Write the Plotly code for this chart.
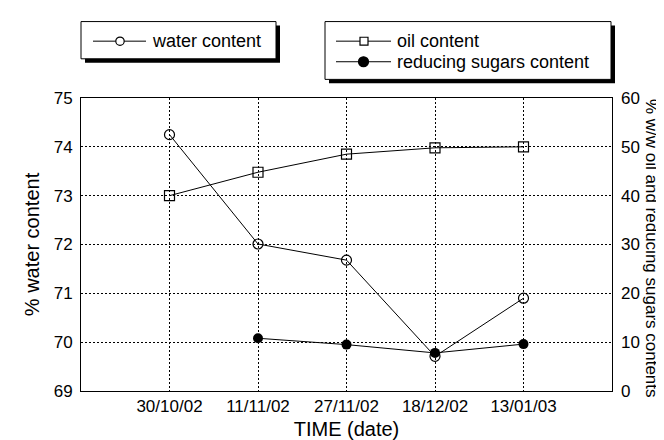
import plotly.graph_objects as go

dates = ["30/10/02", "11/11/02", "27/11/02", "18/12/02", "13/01/03"]
water = [74.25, 72.01, 71.68, 69.71, 70.90]
oil = [40.0, 44.8, 48.5, 49.8, 50.0]
sugar_dates = ["11/11/02", "27/11/02", "18/12/02", "13/01/03"]
sugars = [10.8, 9.5, 7.8, 9.6]

xpos = {d: i + 1 for i, d in enumerate(dates)}
FONT = "Liberation Sans, Arial, sans-serif"

W, H = 664, 440
ML, MR, MT, MB = 73, 60, 90, 51
PW, PH = W - ML - MR, H - MT - MB


def px_x(p):
    return (p - ML) / PW


def px_y(p):
    return (H - MB - p) / PH


fig = go.Figure()
fig.add_trace(go.Scatter(
    x=[xpos[d] for d in dates], y=water, name="water content",
    mode="lines+markers", line=dict(color="black", width=1),
    marker=dict(symbol="circle-open", size=10, color="black", line=dict(width=1.2)),
    yaxis="y", showlegend=False))
fig.add_trace(go.Scatter(
    x=[xpos[d] for d in dates], y=oil, name="oil content",
    mode="lines+markers", line=dict(color="black", width=1),
    marker=dict(symbol="square-open", size=10, color="black", line=dict(width=1.2)),
    yaxis="y2", showlegend=False))
fig.add_trace(go.Scatter(
    x=[xpos[d] for d in sugar_dates], y=sugars, name="reducing sugars content",
    mode="lines+markers", line=dict(color="black", width=1),
    marker=dict(symbol="circle", size=10, color="black"),
    yaxis="y2", showlegend=False))

shapes = []
annotations = []


def rect_px(x0, y0, x1, y1, fill, lw):
    return dict(type="rect", xref="paper", yref="paper",
                x0=px_x(x0), x1=px_x(x1), y0=px_y(y1), y1=px_y(y0),
                fillcolor=fill, line=dict(color="black", width=lw), layer="above")


def circle_px(cx, cy, r, fill):
    return dict(type="circle", xref="paper", yref="paper",
                x0=px_x(cx - r), x1=px_x(cx + r), y0=px_y(cy + r), y1=px_y(cy - r),
                fillcolor=fill, line=dict(color="black", width=1.2), layer="above")


def line_px(x0, x1, y):
    return dict(type="line", xref="paper", yref="paper",
                x0=px_x(x0), x1=px_x(x1), y0=px_y(y), y1=px_y(y),
                line=dict(color="black", width=1), layer="above")


def text_px(x, y, s):
    return dict(text=s, xref="paper", yref="paper", x=px_x(x), y=px_y(y),
                xanchor="left", yanchor="middle", showarrow=False,
                font=dict(size=18))


# legend 1 (water)
shapes.append(rect_px(77, 16, 272, 54, "black", 0))
shapes.append(rect_px(73, 12, 268, 50, "white", 1))
shapes.append(line_px(85, 138, 32))
shapes.append(circle_px(112, 32, 4.2, "white"))
annotations.append(text_px(142, 32, "water content"))

# legend 2 (oil, sugars)
shapes.append(rect_px(321, 16, 607, 75, "black", 0))
shapes.append(rect_px(317, 12, 603, 71, "white", 1))
shapes.append(line_px(328, 383, 32))
shapes.append(rect_px(352, 28, 360, 36, "white", 1.2))
annotations.append(text_px(387, 32, "oil content"))
shapes.append(line_px(328, 383, 53))
shapes.append(circle_px(355.5, 53, 5, "black"))
annotations.append(text_px(387, 53, "reducing sugars content"))

annotations.append(dict(text="% w/w oil and reducing sugars contents", textangle=90,
                        xref="paper", yref="paper", x=px_x(643), y=px_y(243),
                        xanchor="center", yanchor="middle", showarrow=False,
                        font=dict(size=17)))

fig.update_layout(
    width=W, height=H,
    margin=dict(l=ML, r=MR, t=MT, b=MB),
    paper_bgcolor="white", plot_bgcolor="white",
    font=dict(family=FONT, size=17, color="black"),
    showlegend=False,
    xaxis=dict(range=[0, 6], tickvals=[xpos[d] for d in dates], ticktext=dates,
               showgrid=True, gridcolor="black", gridwidth=1, griddash="2px,2px",
               showline=True, linecolor="black", linewidth=1, mirror=True,
               ticks="", zeroline=False,
               title=dict(text="TIME (date)", standoff=6)),
    yaxis=dict(range=[69, 75], dtick=1, tick0=69,
               showgrid=True, gridcolor="black", gridwidth=1, griddash="2px,2px",
               showline=True, linecolor="black", linewidth=1, mirror=True,
               ticks="", zeroline=False, ticklabelstandoff=4,
               title=dict(text="% water content", standoff=8)),
    yaxis2=dict(range=[0, 60], dtick=10, overlaying="y", side="right",
                showgrid=False, showline=False, ticks="", zeroline=False,
                ticklabelstandoff=8),
    shapes=shapes,
    annotations=annotations,
)

fig.write_html("out.html")
